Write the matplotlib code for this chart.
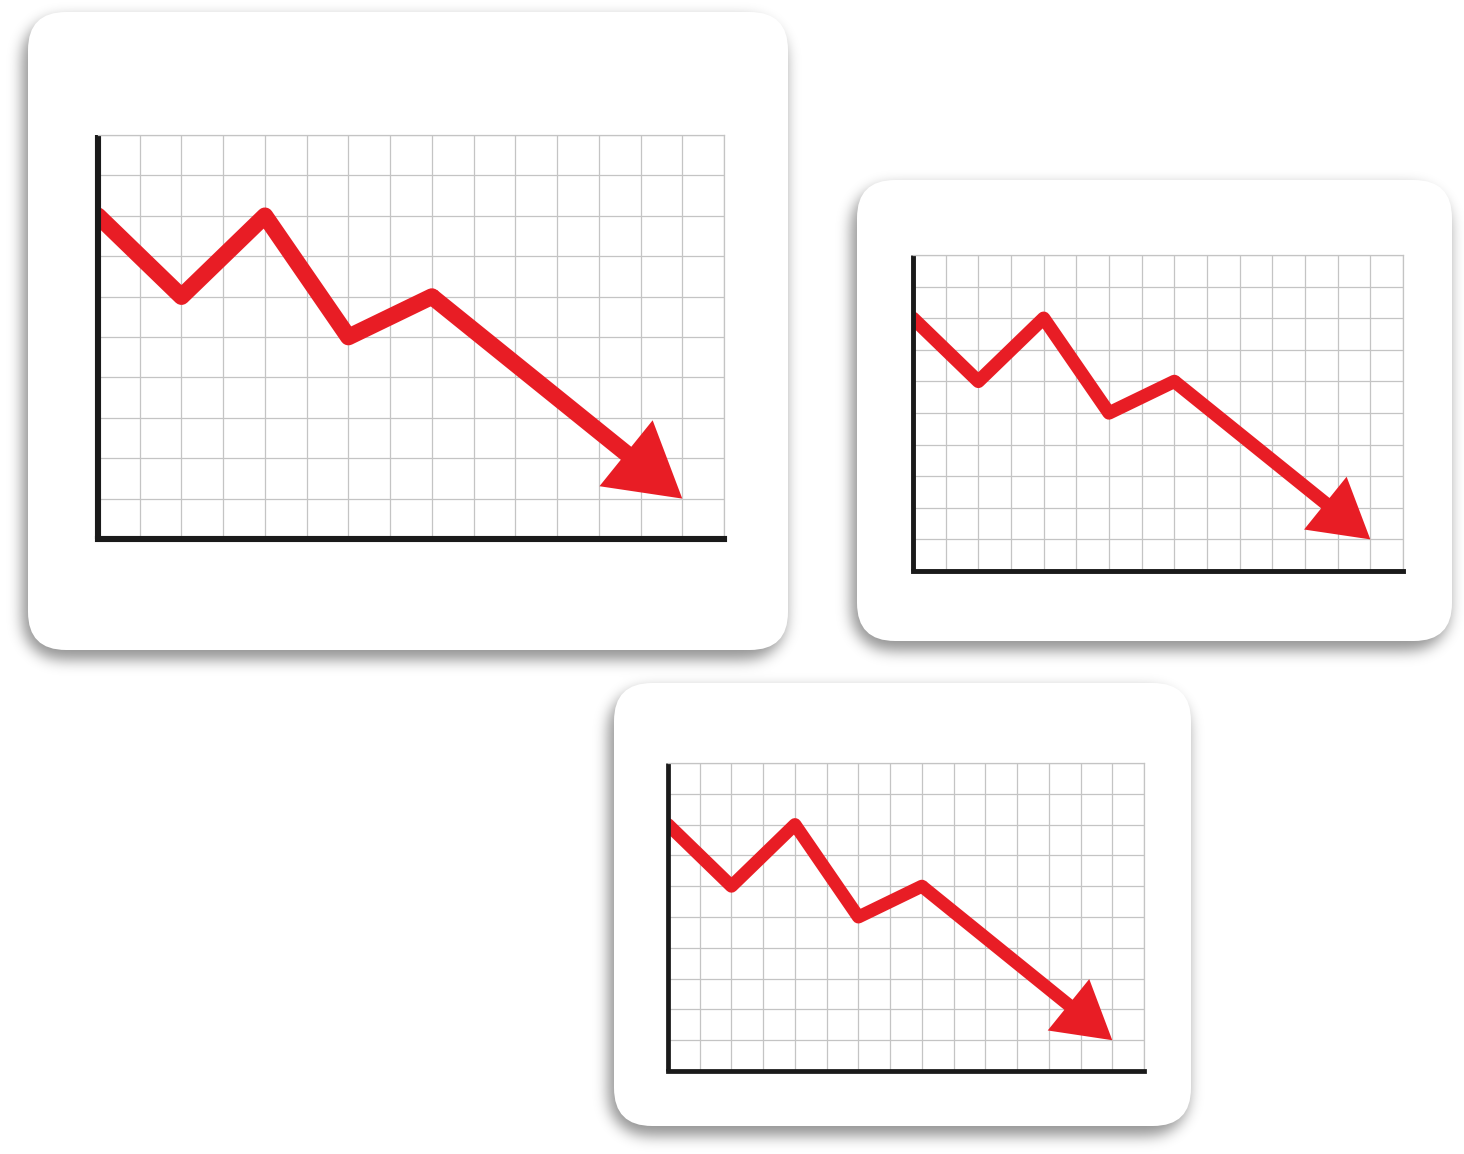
import matplotlib
matplotlib.use('Agg')
import matplotlib.pyplot as plt
import numpy as np
from matplotlib.patches import FancyBboxPatch, FancyArrowPatch

W, H = 1464, 1154

# the same falling trend is shown on all three cards; last point is the arrow tip
steps_x = [0, 2, 4, 6, 8, 14]
steps_y = [8, 6, 8, 5, 6, 1]
n_cols = 15
n_rows = 10

# card and plot boxes in pixels: (left, top, right, bottom)
cards = [(28, 12, 788, 650), (857, 180, 1452, 641), (614, 683, 1191, 1126)]
charts = [(98, 135, 724, 539), (913, 255, 1403, 571), (668, 763, 1144, 1071)]
scales = [1.0, 0.8, 0.78]

red = '#e81d25'
radius = 38


def rounded_mask(xx, yy, box, r):
    x0, y0, x1, y1 = box
    dx = np.maximum(np.maximum(x0 + r - xx, xx - (x1 - r)), 0)
    dy = np.maximum(np.maximum(y0 + r - yy, yy - (y1 - r)), 0)
    return (dx ** 2 + dy ** 2 <= r ** 2).astype(float)


def blur(a, sigma):
    k = np.arange(-3 * sigma, 3 * sigma + 1)
    g = np.exp(-k ** 2 / (2.0 * sigma ** 2))
    g /= g.sum()
    a = np.apply_along_axis(lambda m: np.convolve(m, g, mode='same'), 0, a)
    a = np.apply_along_axis(lambda m: np.convolve(m, g, mode='same'), 1, a)
    return a


fig = plt.figure(figsize=(W / 100, H / 100), dpi=100)
bg = fig.add_axes([0, 0, 1, 1])
bg.set_xlim(0, W)
bg.set_ylim(H, 0)
bg.axis('off')

# soft drop shadow under the cards
yy, xx = np.mgrid[0:H, 0:W]
mask = np.zeros((H, W))
for x0, y0, x1, y1 in cards:
    mask = np.maximum(mask, rounded_mask(xx, yy, (x0 - 6, y0 + 6, x1 - 3, y1 + 9), radius))
shadow = blur(mask, 7)
rgba = np.zeros((H, W, 4))
rgba[..., 3] = shadow * 0.42
bg.imshow(rgba, extent=(0, W, H, 0), zorder=0, interpolation='bilinear')

for x0, y0, x1, y1 in cards:
    bg.add_patch(FancyBboxPatch((x0, y0), x1 - x0, y1 - y0,
                                boxstyle=f'round,pad=0,rounding_size={radius}',
                                fc='white', ec='none', zorder=1))

for (x0, y0, x1, y1), s in zip(charts, scales):
    ax = fig.add_axes([x0 / W, 1 - y1 / H, (x1 - x0) / W, (y1 - y0) / H])
    ax.set_xlim(0, n_cols)
    ax.set_ylim(0, n_rows)
    ax.set_xticks(np.arange(n_cols + 1))
    ax.set_yticks(np.arange(n_rows + 1))
    ax.grid(True, color='#c4c4c4', lw=0.9)
    ax.tick_params(length=0, labelbottom=False, labelleft=False)
    for side in ['top', 'right']:
        ax.spines[side].set_color('#c4c4c4')
        ax.spines[side].set_linewidth(0.9)
    for side in ['left', 'bottom']:
        ax.spines[side].set_color('#1a1a1a')
        ax.spines[side].set_linewidth(4.4 * s)
    ax.spines['left'].set_capstyle('butt')

    ax.plot(steps_x[:-1], steps_y[:-1], color=red, lw=12 * s,
            solid_joinstyle='round', solid_capstyle='round', zorder=2)
    arrow = FancyArrowPatch((steps_x[-2], steps_y[-2]), (steps_x[-1], steps_y[-1]),
                            arrowstyle=f'simple,head_length={52 * s},head_width={61 * s},tail_width={12 * s}',
                            mutation_scale=1, shrinkA=0, shrinkB=0,
                            fc=red, ec='none', lw=0, zorder=2)
    ax.add_patch(arrow)

fig.savefig('out.png', dpi=100)
